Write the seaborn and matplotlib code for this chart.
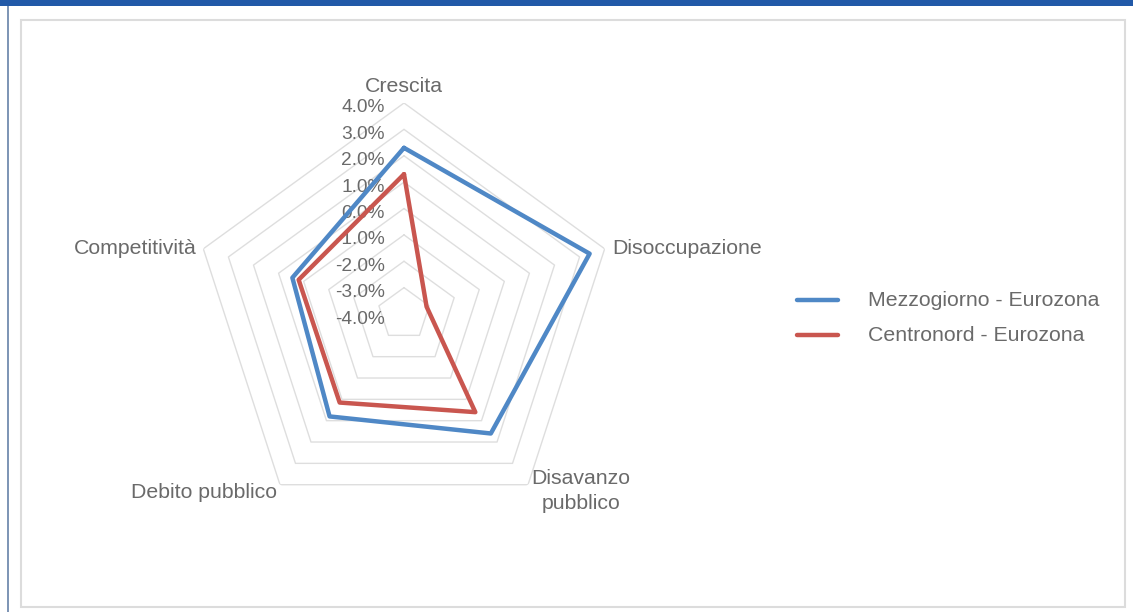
import numpy as np
import pandas as pd
import matplotlib
matplotlib.use("Agg")
import matplotlib.pyplot as plt
import matplotlib.transforms as mtransforms
from matplotlib.patches import Rectangle
import seaborn as sns

categories = ["Crescita", "Disoccupazione", "Disavanzo\npubblico", "Debito pubblico", "Competitività"]
mezzogiorno = [2.3, 3.4, 1.6, 0.8, 0.45]
centronord = [1.3, -3.1, 0.6, 0.15, 0.2]
series_names = ["Mezzogiorno - Eurozona", "Centronord - Eurozona"]
tick_values = [4, 3, 2, 1, 0, -1, -2, -3, -4]
tick_labels = ["4.0%", "3.0%", "2.0%", "1.0%", "0.0%", "-1.0%", "-2.0%", "-3.0%", "-4.0%"]

sns.set_theme(style="white")
plt.rcParams['font.family'] = ['Liberation Sans', 'DejaVu Sans']
FW = "normal"
TXT = "#6a6a6a"
colors = ["#4f88c6", "#c9564f"]
CAT_FS = 15.3
TICK_FS = 13.8

W, H = 1133, 612
fig = plt.figure(figsize=(W / 100, H / 100), dpi=100)
fig.patch.set_facecolor("white")

cx, cy, R = 404, 314, 211
ax = fig.add_axes([(cx - R) / W, (H - cy - R) / H, 2 * R / W, 2 * R / H], projection="polar")
ax.set_theta_offset(np.pi / 2)
ax.set_theta_direction(-1)
ax.set_ylim(-4, 4)
ax.grid(False)
ax.spines["polar"].set_visible(False)
ax.set_facecolor("none")

n = len(categories)
angles = np.linspace(0, 2 * np.pi, n, endpoint=False)
closed_angles = np.append(angles, 2 * np.pi)

# pentagonal grid rings
for v in tick_values[:-1]:
    ax.plot(closed_angles, [v] * (n + 1), color="#dedede", lw=1.0, zorder=1)

rows = []
for name, vals in zip(series_names, [mezzogiorno, centronord]):
    for a, val in zip(closed_angles, list(vals) + [vals[0]]):
        rows.append({"theta": a, "value": val, "serie": name})
df = pd.DataFrame(rows)
sns.lineplot(data=df, x="theta", y="value", hue="serie", palette=colors,
             hue_order=series_names, sort=False, estimator=None,
             lw=3.2, ax=ax, legend=False, zorder=3)
ax.set_xlabel("")
ax.set_ylabel("")
ax.set_xticks([])
ax.set_yticks([])
ax.set_ylim(-4, 4)

# radial tick labels
off = mtransforms.offset_copy(ax.transData, fig=fig, x=-19, y=-5, units="dots")
for v, lab in zip(tick_values, tick_labels):
    ax.text(0, v, lab, transform=off, ha="right", va="center", fontsize=TICK_FS,
            color=TXT, fontweight=FW, zorder=2)

def fx(x):
    return x / W

def fy(y):
    return 1 - y / H

kw = dict(fontsize=CAT_FS, color=TXT, fontweight=FW)
fig.text(fx(404), fy(86), categories[0], ha="center", va="center", **kw)
fig.text(fx(612), fy(248), categories[1], ha="left", va="center", **kw)
fig.text(fx(581), fy(491), categories[2], ha="center", va="center", linespacing=1.45, **kw)
fig.text(fx(277), fy(492), categories[3], ha="right", va="center", **kw)
fig.text(fx(197), fy(248), categories[4], ha="right", va="center", **kw)

# legend
for i, (name, c) in enumerate(zip(series_names, colors)):
    y = 300 + i * 35
    fig.add_artist(plt.Line2D([fx(797), fx(838)], [fy(y), fy(y)], color=c, lw=3.2,
                              solid_capstyle="round"))
    fig.text(fx(868), fy(y), name, ha="left", va="center", **kw)

# frame decorations
fig.add_artist(Rectangle((0, fy(6)), 1, 6 / H, transform=fig.transFigure,
                         facecolor="#2159a8", edgecolor="none"))
fig.add_artist(Rectangle((fx(7), 0), 2 / W, fy(6), transform=fig.transFigure,
                         facecolor="#7f96b6", edgecolor="none"))
fig.add_artist(Rectangle((fx(21), fy(607)), (1125 - 21) / W, (607 - 20) / H,
                         transform=fig.transFigure, facecolor="none",
                         edgecolor="#dcdcdc", lw=1.5))

fig.savefig("out.png", dpi=100)
